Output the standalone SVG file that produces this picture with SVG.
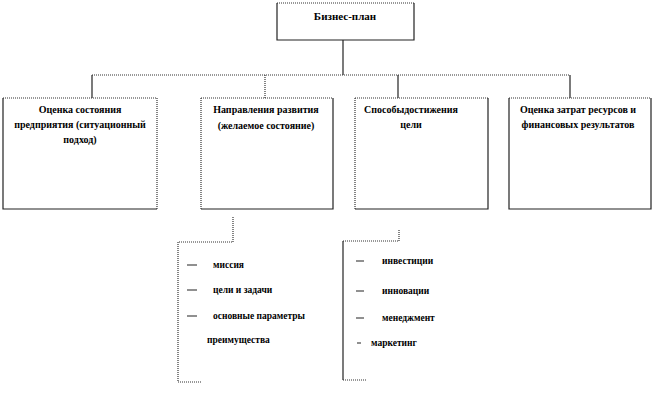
<svg xmlns="http://www.w3.org/2000/svg" width="654" height="400" viewBox="0 0 654 400">
<style>
.t{font-family:"Liberation Serif","DejaVu Serif","Times New Roman",serif;font-weight:bold;font-size:10px;fill:#000}
.s{font-size:9.5px}
.h{font-size:11px}
.m{text-anchor:middle}
.solid{fill:none;stroke:#222;stroke-width:1.2}
.dot{fill:none;stroke:#333;stroke-width:1.2;stroke-dasharray:1 1}
</style>
<rect width="654" height="400" fill="#fff"/>
<g id="connectors">
<path class="solid" d="M343 40V75"/>
<path class="dot" d="M92 75H570"/>
<path class="solid" d="M92 75V98"/>
<path class="dot" d="M265 75V98"/>
<path class="solid" d="M398 75V98"/>
<path class="solid" d="M570 75V98"/>
</g>
<g id="n-plan">
<path class="dot" d="M277 3H414"/>
<path class="solid" d="M277 3V40H414V3"/>
<text class="t h m" x="345" y="20">Бизнес-план</text>
</g>
<g id="n-assess">
<path class="dot" d="M3 98H157V209"/>
<path class="solid" d="M3 98V209H157"/>
<text class="t m" x="80" y="113">Оценка состояния</text>
<text class="t m" x="80" y="128">предприятия (ситуационный</text>
<text class="t m" x="80" y="143">подход)</text>
</g>
<g id="n-direction">
<path class="dot" d="M201 98H333M201 98V209"/>
<path class="solid" d="M333 98V209H201"/>
<text class="t m" x="266" y="113">Направления развития</text>
<text class="t m" x="266" y="129">(желаемое состояние)</text>
</g>
<g id="n-ways">
<path class="dot" d="M355 98H488M355 98V209"/>
<path class="solid" d="M488 98V209H355"/>
<text class="t m" x="411" y="113">Способыдостижения</text>
<text class="t m" x="411" y="128">цели</text>
</g>
<g id="n-costs">
<path class="dot" d="M509 98H651"/>
<path class="solid" d="M509 98V209H651V98"/>
<text class="t m" x="578" y="113">Оценка затрат ресурсов и</text>
<text class="t m" x="578" y="128">финансовых результатов</text>
</g>
<g id="n-list1">
<path class="dot" d="M233 217V242H178V382H201"/>
<path class="solid" d="M187 265H197M187 290H197M187 316H197"/>
<text class="t s" x="213" y="268">миссия</text>
<text class="t s" x="213" y="293">цели и задачи</text>
<text class="t s" x="213" y="319">основные параметры</text>
<text class="t s" x="207" y="343">преимущества</text>
</g>
<g id="n-list2">
<path class="dot" d="M399 230V241H343"/>
<path class="solid" d="M343 241V380"/>
<path class="dot" d="M343 380H366"/>
<path class="solid" d="M356 261H364M356 291H364M356 318H364M357 343H361"/>
<text class="t s" x="382" y="264">инвестиции</text>
<text class="t s" x="382" y="294">инновации</text>
<text class="t s" x="382" y="321">менеджмент</text>
<text class="t s" x="371" y="346">маркетинг</text>
</g>
</svg>
